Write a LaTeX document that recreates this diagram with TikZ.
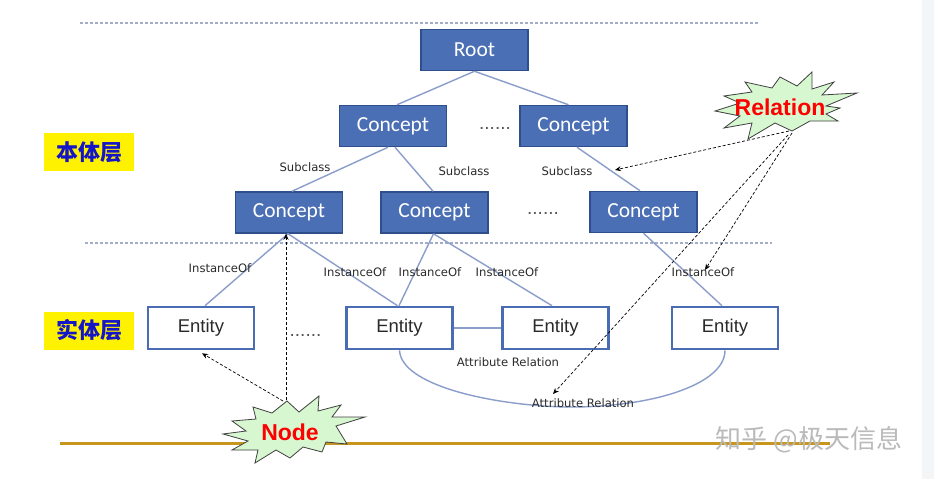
\documentclass[tikz,border=0pt]{standalone}
\usepackage{fontspec}
\setmainfont{Liberation Sans}
\newfontfamily\calib{Carlito}
\newfontfamily\djv{DejaVu Sans}
\newfontfamily\cjk{Noto Sans CJK SC}
\usetikzlibrary{arrows.meta}
\definecolor{cfill}{HTML}{4A6FB5}
\definecolor{cborder}{HTML}{2F4F8C}
\definecolor{eborder}{HTML}{4A6CB3}
\definecolor{edgecol}{HTML}{8A9DCB}
\definecolor{sepcol}{HTML}{A3ADC9}
\definecolor{goldline}{HTML}{C8961C}
\definecolor{starfill}{HTML}{D6F7D0}
\definecolor{lblblue}{HTML}{1414C8}
\definecolor{stripcol}{HTML}{F4F5F7}
\definecolor{txtgray}{HTML}{2A2A2A}
\begin{document}
\begin{tikzpicture}[x=1pt,y=-1pt,
  concept/.style={draw=cborder, line width=1.5, fill=cfill, text=white,
    minimum width=107, minimum height=41, inner sep=0,
    font=\calib\fontsize{21.5}{24}\selectfont},
  entity/.style={draw=eborder, line width=2.6, fill=white, text=txtgray,
    minimum width=106, minimum height=42, inner sep=0,
    font=\fontsize{18.5}{20}\selectfont},
  rellbl/.style={text=txtgray, inner sep=0, font=\djv\fontsize{11.6}{13}\selectfont},
  dots/.style={text=txtgray!80, inner sep=0, font=\fontsize{19}{20}\selectfont},
  layer/.style={fill=yellow, text=lblblue, minimum width=90, minimum height=38, inner sep=0,
    font=\cjk\bfseries\fontsize{22}{24}\selectfont},
  tree/.style={draw=edgecol, line width=1.4},
  sep/.style={draw=sepcol, line width=1.2, dash pattern=on 3 off 2},
  darr/.style={draw=black, line width=0.7, dash pattern=on 3 off 2,
    -{Stealth[length=6,width=5]}},
  burst/.style={draw=black!75, line width=0.8, fill=starfill, line join=miter},
  bursttxt/.style={text=red, inner sep=0, font=\bfseries\fontsize{23}{25}\selectfont}
]
\useasboundingbox (0,0) rectangle (934,479);
\fill[white] (0,0) rectangle (934,479);
\fill[stripcol] (922,0) rectangle (934,479);

% separators
\draw[sep] (80,23) -- (758,23);
\draw[sep] (85,243) -- (772,243);

% layer labels
\node[layer] (ontology) at (89,152) {本体层};
\node[layer] (instlayer) at (89,330.5) {实体层};

% concept nodes
\node[concept] (root) at (474.5,50) {Root};
\node[concept] (cA) at (393,126) {Concept};
\node[concept] (cB) at (573.5,126) {Concept};
\node[concept] (cC) at (289,212.5) {Concept};
\node[concept] (cD) at (434.5,212.5) {Concept};
\node[concept] (cE) at (643.5,212) {Concept};

\node[dots] (dots1) at (495,128.5) {......};
\node[dots] (dots2) at (543,213.5) {......};

% entities
\node[entity] (e1) at (201,328) {Entity};
\node[entity] (e2) at (399.5,328) {Entity};
\node[entity] (e3) at (555.5,328) {Entity};
\node[entity] (e4) at (725,328) {Entity};
\node[dots] (dots3) at (305.5,335.5) {......};

% tree edges
\draw[tree] (root.south) -- ([xshift=4pt]cA.north);
\draw[tree] (root.south) -- ([xshift=-5pt]cB.north);
\draw[tree] ([xshift=-5pt]cA.south) -- ([xshift=3pt]cC.north);
\draw[tree] ([xshift=2pt]cA.south) -- ([xshift=-1.5pt]cD.north);
\draw[tree] ([xshift=3.5pt]cB.south) -- ([xshift=-3.5pt]cE.north);
\draw[tree] ([xshift=-1pt]cC.south) -- ([xshift=4pt]e1.north);
\draw[tree] ([xshift=-1pt]cC.south) -- ([xshift=-2pt]e2.north);
\draw[tree] ([xshift=-1pt]cD.south) -- ([xshift=-0.5pt]e2.north);
\draw[tree] ([xshift=-1pt]cD.south) -- ([xshift=-3.5pt]e3.north);
\draw[tree] (cE.south) -- ([xshift=-3pt]e4.north);
\draw[tree] (e2.east) -- (e3.west);
\draw[tree] (e2.south) .. controls (401,385) and (490,405) .. (565,407)
  .. controls (650,408) and (725,385) .. (e4.south);

% edge labels
\node[rellbl] (s1) at (305,167) {Subclass};
\node[rellbl] (s2) at (464,171) {Subclass};
\node[rellbl] (s3) at (567,171) {Subclass};
\node[rellbl] (i1) at (220,268) {InstanceOf};
\node[rellbl] (i2) at (355,272) {InstanceOf};
\node[rellbl] (i3) at (430,272) {InstanceOf};
\node[rellbl] (i4) at (507,272) {InstanceOf};
\node[rellbl] (i5) at (703,272) {InstanceOf};
\node[rellbl] (a1) at (508,362) {Attribute Relation};
\node[rellbl] (a2) at (583,403) {Attribute Relation};

% bottom line
\draw[goldline, line width=3] (60,443) -- (830,443);

% Node starburst
\draw[burst] (223,434) -- (246,431) -- (232,421) -- (256,419) -- (253,407) -- (272,413)
  -- (287,401) -- (299,412) -- (319,396) -- (318,411) -- (341,405) -- (332,417)
  -- (365,417) -- (336,426) -- (347,444) -- (326,442) -- (322,452) -- (303,447)
  -- (290,458) -- (276,450) -- (255,463) -- (258,450) -- (232,450) -- (248,441) -- cycle;
\node[bursttxt] (nodelbl) at (290,432) {Node};

% Relation starburst
\draw[burst] (715,111) -- (740,103) -- (724,96) -- (752,92) -- (745,82) -- (772,88)
  -- (780,77) -- (797,86) -- (812,72) -- (812,89) -- (834,82) -- (822,95)
  -- (857,93) -- (826,106) -- (840,108) -- (826,114) -- (838,121) -- (810,121)
  -- (792,131) -- (775,123) -- (748,139) -- (752,123) -- (724,128) -- (740,116) -- cycle;
\node[bursttxt] (rel) at (780,107) {Relation};

% dashed pointers
\coordinate (nt1) at (286,400);
\coordinate (nt2) at (283,401);
\coordinate (rt1) at (789,131);
\coordinate (rt2) at (792,133);
\coordinate (rt3) at (788,135);
\coordinate (subtgt) at (615,170);
\coordinate (attrtgt) at (553,394);
\coordinate (insttgt) at (705,270);
\draw[darr] (nt1) -- (cC.south -| nt1);
\draw[darr] (nt2) -- ([xshift=1pt,yshift=-3pt]e1.south);
\draw[darr] (rt1) -- (subtgt);
\draw[darr] (rt2) -- (insttgt);
\draw[darr] (rt3) -- (attrtgt);

% watermark
\node[text=black!27, inner sep=0, font=\cjk\fontsize{26}{28}\selectfont] (wm) at (809,440) {知乎 @极天信息};
\end{tikzpicture}
\end{document}
